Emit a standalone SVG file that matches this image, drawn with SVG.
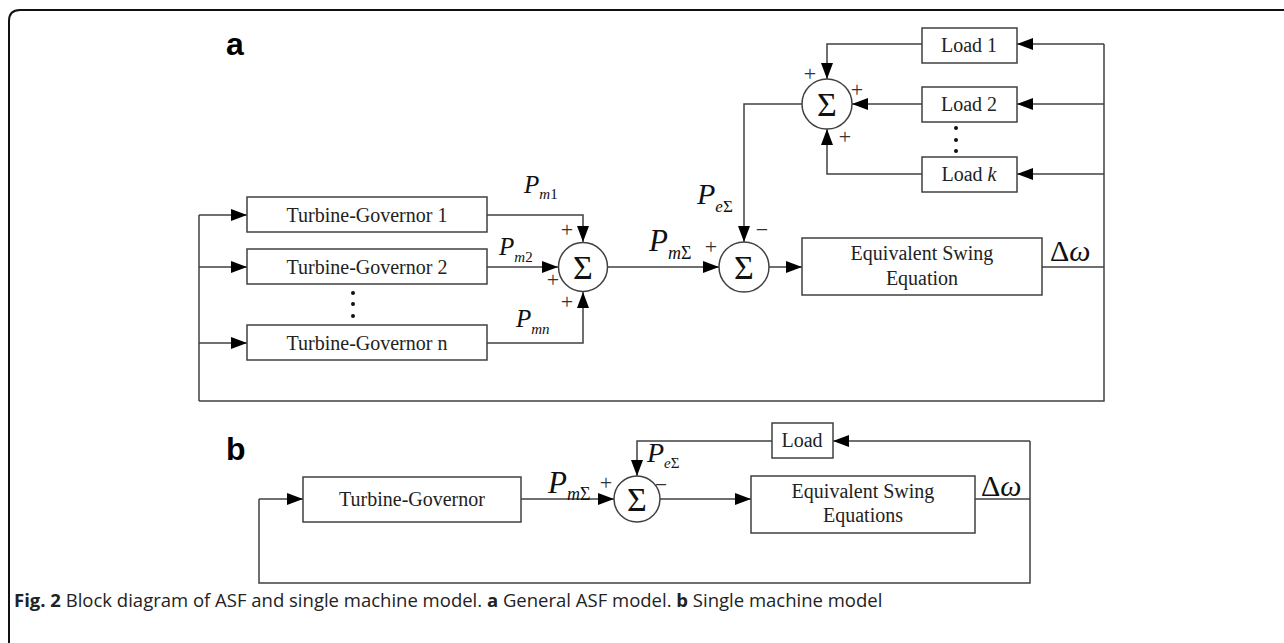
<svg xmlns="http://www.w3.org/2000/svg" width="1284" height="643" viewBox="0 0 1284 643">
<defs>
<marker id="arr" markerUnits="userSpaceOnUse" markerWidth="16" markerHeight="12" refX="16" refY="6" orient="auto">
<path d="M0,0 L16,6 L0,12 z" fill="#000"/>
</marker>
</defs>
<style>
.ln{fill:none;stroke:#404040;stroke-width:1.5}
.bx{fill:#fff;stroke:#404040;stroke-width:1.5}
.sm{fill:#fff;stroke:#404040;stroke-width:1.5}
.t{font-family:"Liberation Serif","Times New Roman",serif;font-size:20px;fill:#222;text-anchor:middle}
.sg{font-family:"Liberation Serif","Times New Roman",serif;font-size:34px;fill:#111;text-anchor:middle}
.pm{font-family:"Liberation Serif","Times New Roman",serif;font-style:italic;fill:#111}
.ps{font-family:"Liberation Serif","Times New Roman",serif;font-size:22px;fill:#333;text-anchor:middle}
.lab{font-family:"Liberation Sans",Arial,sans-serif;font-weight:bold;font-size:32px;fill:#000}
.cap{font-family:"Open Sans","Noto Sans",sans-serif;font-size:18.5px;fill:#222}
</style>
<rect width="1284" height="643" fill="#fff"/>
<path d="M9,643 V21 Q9,10 20,10 H1284" fill="none" stroke="#111" stroke-width="2"/>

<text class="lab" x="226" y="55">a</text>
<text class="lab" x="226" y="460">b</text>

<g id="connectors">
<!-- part a -->
<path class="ln" d="M199,401 V215"/>
<path class="ln" d="M199,215 H247" marker-end="url(#arr)"/>
<path class="ln" d="M199,267 H247" marker-end="url(#arr)"/>
<path class="ln" d="M199,343 H247" marker-end="url(#arr)"/>
<path class="ln" d="M487,215 H583 V242" marker-end="url(#arr)"/>
<path class="ln" d="M487,267 H558" marker-end="url(#arr)"/>
<path class="ln" d="M487,343 H583 V292" marker-end="url(#arr)"/>
<path class="ln" d="M608,267 H719" marker-end="url(#arr)"/>
<path class="ln" d="M769,267 H802" marker-end="url(#arr)"/>
<path class="ln" d="M1042,267 H1104"/>
<path class="ln" d="M1104,44 V401 H199"/>
<path class="ln" d="M1104,44 H1017" marker-end="url(#arr)"/>
<path class="ln" d="M1104,104 H1017" marker-end="url(#arr)"/>
<path class="ln" d="M1104,174 H1017" marker-end="url(#arr)"/>
<path class="ln" d="M922,44 H827 V79" marker-end="url(#arr)"/>
<path class="ln" d="M922,104 H852" marker-end="url(#arr)"/>
<path class="ln" d="M922,174 H827 V129" marker-end="url(#arr)"/>
<path class="ln" d="M802,104 H744 V242" marker-end="url(#arr)"/>
<!-- part b -->
<path class="ln" d="M259,499 V583 H1030 V441"/>
<path class="ln" d="M259,499 H303" marker-end="url(#arr)"/>
<path class="ln" d="M521,499 H614" marker-end="url(#arr)"/>
<path class="ln" d="M660,499 H751" marker-end="url(#arr)"/>
<path class="ln" d="M975,499 H1030"/>
<path class="ln" d="M1030,441 H833" marker-end="url(#arr)"/>
<path class="ln" d="M772,441 H637 V476" marker-end="url(#arr)"/>
</g>

<g id="tg1"><rect class="bx" x="247" y="197" width="240" height="35"/><text class="t" x="367" y="222">Turbine-Governor 1</text></g>
<g id="tg2"><rect class="bx" x="247" y="249" width="240" height="35"/><text class="t" x="367" y="274">Turbine-Governor 2</text></g>
<g id="tgn"><rect class="bx" x="247" y="325" width="240" height="35"/><text class="t" x="367" y="350">Turbine-Governor n</text></g>
<g id="tgdots" fill="#111"><circle cx="353" cy="293" r="2"/><circle cx="353" cy="304" r="2"/><circle cx="353" cy="316" r="2"/></g>

<g id="sum1"><circle class="sm" cx="583" cy="267" r="24.5"/><text class="sg" x="583" y="279">Σ</text></g>
<g id="sum2"><circle class="sm" cx="744" cy="267" r="25"/><text class="sg" x="744" y="279">Σ</text></g>
<g id="sum3"><circle class="sm" cx="827" cy="104" r="25"/><text class="sg" x="827" y="116">Σ</text></g>

<g id="eqa"><rect class="bx" x="802" y="238" width="240" height="57"/><text class="t" x="922" y="260">Equivalent Swing</text><text class="t" x="922" y="285">Equation</text></g>

<g id="load1"><rect class="bx" x="922" y="28" width="95" height="35"/><text class="t" x="969" y="52">Load 1</text></g>
<g id="load2"><rect class="bx" x="922" y="87" width="95" height="35"/><text class="t" x="969" y="111">Load 2</text></g>
<g id="loadk"><rect class="bx" x="922" y="157" width="95" height="35"/><text class="t" x="969" y="181">Load <tspan font-style="italic">k</tspan></text></g>
<g id="loaddots" fill="#111"><circle cx="956" cy="128" r="2"/><circle cx="956" cy="140" r="2"/><circle cx="956" cy="151" r="2"/></g>

<g id="labels-a">
<text class="pm" x="524" y="193" font-size="25">P<tspan font-size="15" dy="6">m</tspan><tspan font-size="15" font-style="normal">1</tspan></text>
<text class="pm" x="499" y="255" font-size="25">P<tspan font-size="15" dy="7">m</tspan><tspan font-size="15" font-style="normal">2</tspan></text>
<text class="pm" x="516" y="327" font-size="25">P<tspan font-size="15" dy="7">mn</tspan></text>
<text class="pm" x="649" y="251" font-size="31">P<tspan font-size="18" dy="8">m</tspan><tspan font-size="18" font-style="normal">Σ</tspan></text>
<text class="pm" x="697" y="204" font-size="30">P<tspan font-size="17" dy="8">e</tspan><tspan font-size="17" font-style="normal">Σ</tspan></text>
<text class="pm" x="1050" y="261" font-size="30"><tspan font-style="normal">Δ</tspan>ω</text>
<text class="ps" x="567" y="237">+</text>
<text class="ps" x="553" y="287">+</text>
<text class="ps" x="567" y="309">+</text>
<text class="ps" x="711" y="254">+</text>
<text class="ps" x="762" y="237">−</text>
<text class="ps" x="810" y="81">+</text>
<text class="ps" x="857" y="97">+</text>
<text class="ps" x="845" y="144">+</text>
</g>

<g id="tgb"><rect class="bx" x="303" y="477" width="218" height="45"/><text class="t" x="412" y="506">Turbine-Governor</text></g>
<g id="sumb"><circle class="sm" cx="637" cy="499" r="23"/><text class="sg" x="637" y="511">Σ</text></g>
<g id="eqb"><rect class="bx" x="751" y="476" width="224" height="57"/><text class="t" x="863" y="498">Equivalent Swing</text><text class="t" x="863" y="522">Equations</text></g>
<g id="loadb"><rect class="bx" x="772" y="423" width="61" height="35"/><text class="t" x="802" y="447">Load</text></g>

<g id="labels-b">
<text class="pm" x="548" y="493" font-size="31">P<tspan font-size="18" dy="7">m</tspan><tspan font-size="18" font-style="normal">Σ</tspan></text>
<text class="pm" x="647" y="462" font-size="28">P<tspan font-size="15" dy="6">e</tspan><tspan font-size="15" font-style="normal">Σ</tspan></text>
<text class="pm" x="981" y="496" font-size="30"><tspan font-style="normal">Δ</tspan>ω</text>
<text class="ps" x="606" y="490">+</text>
<text class="ps" x="661" y="492">−</text>
</g>

<text class="cap" x="14" y="607"><tspan font-weight="bold">Fig. 2</tspan> Block diagram of ASF and single machine model. <tspan font-weight="bold">a</tspan> General ASF model. <tspan font-weight="bold">b</tspan> Single machine model</text>
</svg>
